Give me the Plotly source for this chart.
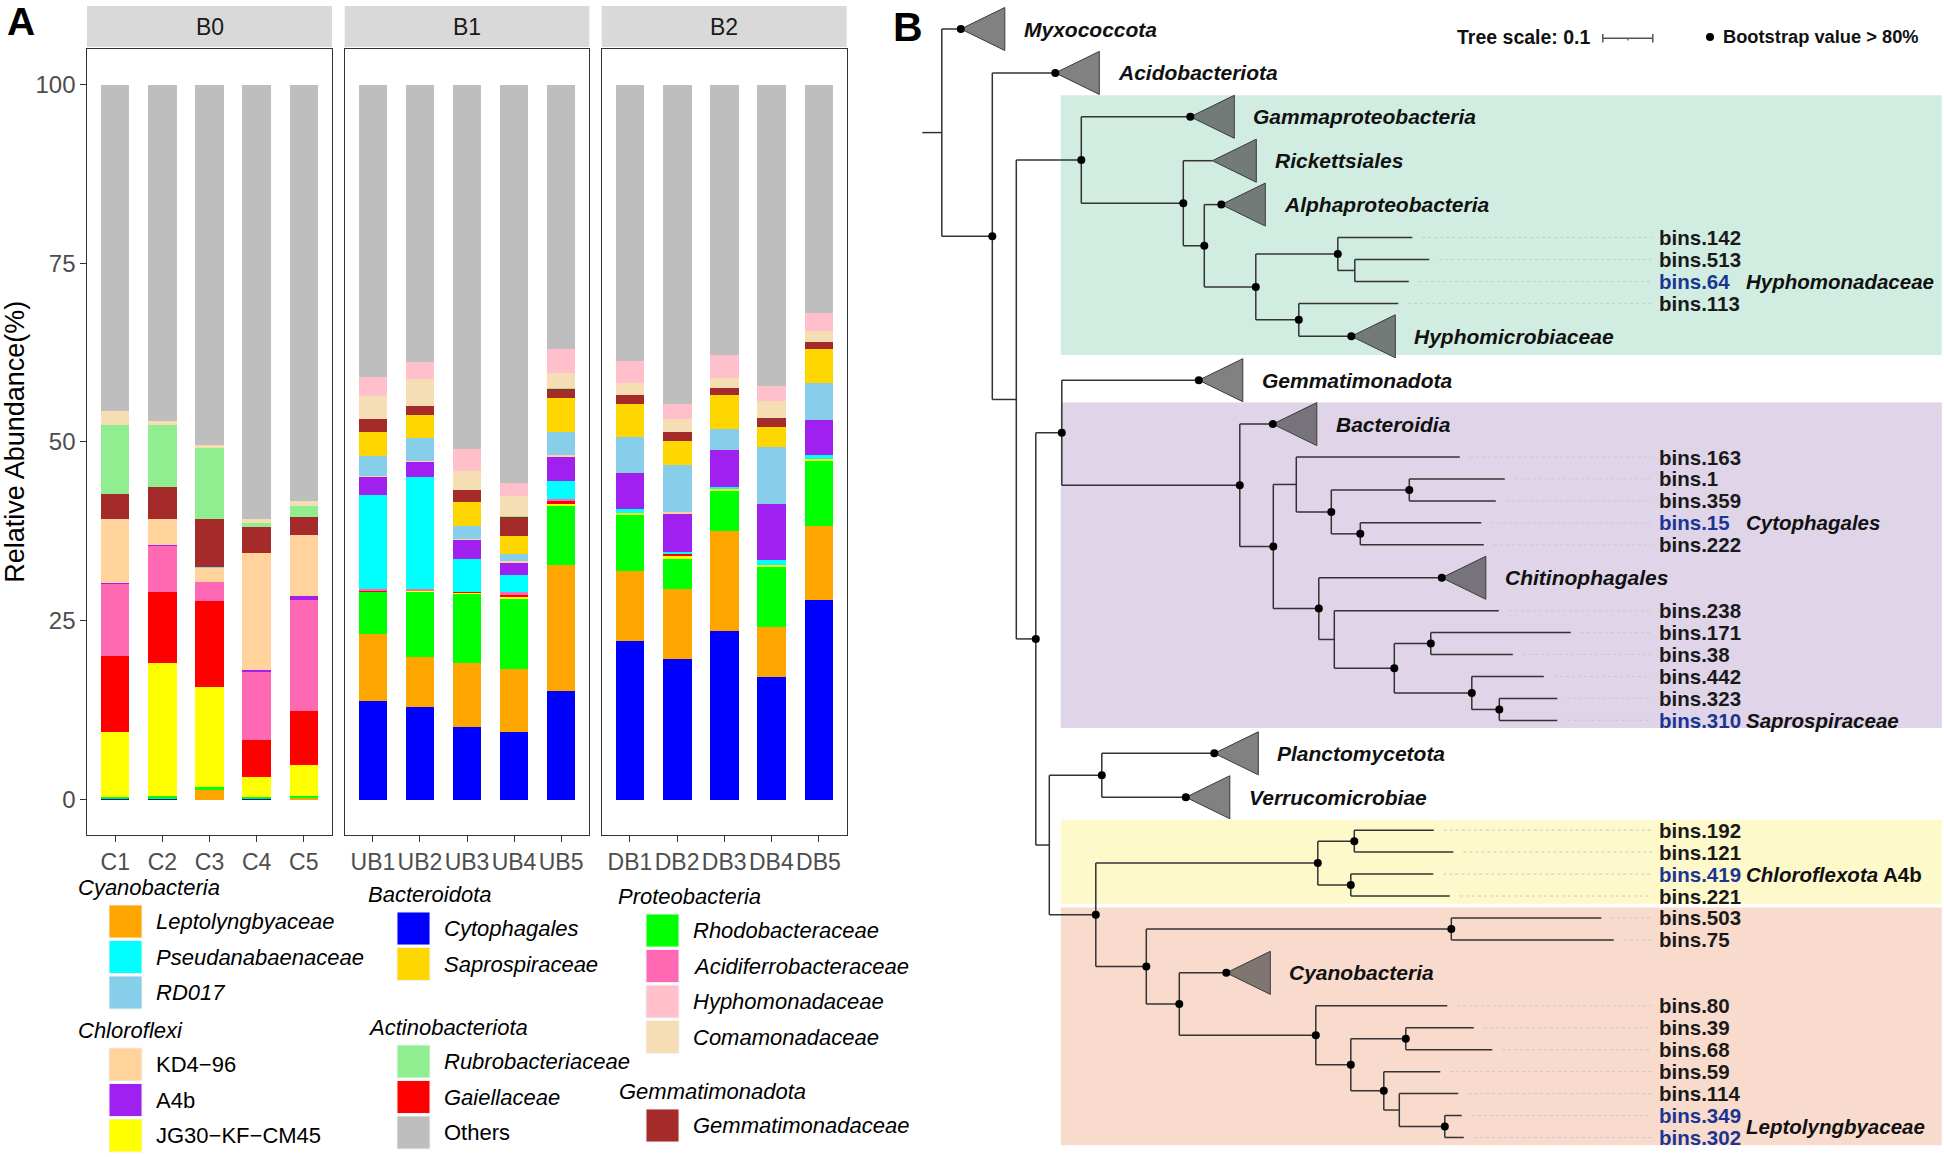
import plotly.graph_objects as go

W, H = 1944, 1157
FONT = "Liberation Sans, Arial, sans-serif"

# ======================= Panel A data =======================
FACETS = ["B0", "B1", "B2"]
SAMPLES = {
    "B0": ["C1", "C2", "C3", "C4", "C5"],
    "B1": ["UB1", "UB2", "UB3", "UB4", "UB5"],
    "B2": ["DB1", "DB2", "DB3", "DB4", "DB5"],
}
#                  C1    C2    C3    C4    C5    UB1   UB2   UB3   UB4   UB5   DB1   DB2   DB3   DB4   DB5
cytophagales    = [0.1,  0.1,  0.0,  0.1,  0.0,  13.75, 13.0, 10.12, 9.42, 15.24, 22.19, 19.67, 23.54, 17.11, 27.97]
leptolyngbyaceae = [0.0, 0.0,  1.3,  0.0,  0.3,  9.42, 6.95, 9.0,  8.9,  17.63, 9.84, 9.84, 13.99, 6.99, 10.26]
rhodobacteraceae = [0.3, 0.35, 0.47, 0.25, 0.15, 5.87, 9.19, 9.69, 9.79, 8.25, 7.83, 4.2,  5.59, 8.44, 9.18]
jg30_kf_cm45    = [9.06, 18.66, 13.99, 2.82, 4.45, 0.05, 0.05, 0.1, 0.23, 0.28, 0.23, 0.33, 0.33, 0.23, 0.23]
gaiellaceae     = [10.68, 9.93, 12.03, 5.22, 7.5,  0.2,  0.1,  0.09, 0.33, 0.47, 0.0,  0.28, 0.0,  0.0,  0.0]
acidiferrobacteraceae = [10.02, 6.53, 2.61, 9.56, 15.57, 0.13, 0.13, 0.0, 0.33, 0.23, 0.0, 0.0, 0.0, 0.0, 0.0]
pseudanabaenaceae = [0.0, 0.0, 0.0,  0.0,  0.0,  13.24, 15.71, 4.66, 2.47, 2.52, 0.61, 0.32, 0.33, 0.8, 0.61]
a4b             = [0.2,  0.05, 0.0,  0.15, 0.47, 2.47, 2.19, 2.7,  1.63, 3.31, 4.99, 5.36, 5.08, 7.78, 4.8]
kd4_96          = [8.94, 3.68, 2.0,  16.45, 8.53, 0.15, 0.05, 0.05, 0.23, 0.23, 0.0, 0.19, 0.0,  0.0,  0.0]
rd017           = [0.0,  0.0,  0.15, 0.0,  0.0,  2.83, 3.21, 1.91, 1.03, 3.26, 5.08, 6.57, 3.03, 7.97, 5.23]
saprospiraceae  = [0.0,  0.0,  0.0,  0.0,  0.0,  3.26, 3.17, 3.31, 2.56, 4.76, 4.61, 3.4,  4.75, 2.75, 4.75]
gemmatimonadaceae = [3.4, 4.43, 6.7, 3.59, 2.52, 1.87, 1.35, 1.73, 2.61, 1.26, 1.17, 1.31, 0.94, 1.31, 0.98]
rubrobacteriaceae = [9.75, 8.62, 9.93, 0.51, 1.63, 0.05, 0.0, 0.0, 0.1, 0.14, 0.0, 0.0, 0.0, 0.0, 0.0]
comamonadaceae  = [1.96, 0.63, 0.47, 0.6,  0.7,  3.21, 3.78, 2.56, 2.89, 2.09, 1.73, 1.82, 1.39, 2.42, 1.49]
hyphomonadaceae = [0.0,  0.0,  0.0,  0.0,  0.0,  2.57, 2.38, 3.17, 1.77, 3.36, 3.12, 2.11, 3.17, 2.01, 2.57]
others          = [45.59, 47.02, 50.35, 60.75, 58.18, 40.93, 38.74, 50.91, 55.71, 36.97, 38.6, 44.6, 37.86, 42.19, 31.93]

# stacking order, bottom -> top
TAXA = [
    ("Cytophagales", cytophagales),
    ("Leptolyngbyaceae", leptolyngbyaceae),
    ("Rhodobacteraceae", rhodobacteraceae),
    ("JG30−KF−CM45", jg30_kf_cm45),
    ("Gaiellaceae", gaiellaceae),
    ("Acidiferrobacteraceae", acidiferrobacteraceae),
    ("Pseudanabaenaceae", pseudanabaenaceae),
    ("A4b", a4b),
    ("KD4−96", kd4_96),
    ("RD017", rd017),
    ("Saprospiraceae", saprospiraceae),
    ("Gemmatimonadaceae", gemmatimonadaceae),
    ("Rubrobacteriaceae", rubrobacteriaceae),
    ("Comamonadaceae", comamonadaceae),
    ("Hyphomonadaceae", hyphomonadaceae),
    ("Others", others),
]
COLORS = {
    "Leptolyngbyaceae": "#FFA500", "Pseudanabaenaceae": "#00FFFF", "RD017": "#87CEEB",
    "KD4−96": "#FFD39B", "A4b": "#A020F0", "JG30−KF−CM45": "#FFFF00",
    "Cytophagales": "#0000FF", "Saprospiraceae": "#FFD700",
    "Rubrobacteriaceae": "#90EE90", "Gaiellaceae": "#FF0000", "Others": "#BEBEBE",
    "Rhodobacteraceae": "#00FF00", "Acidiferrobacteraceae": "#FF69B4",
    "Hyphomonadaceae": "#FFC0CB", "Comamonadaceae": "#F5DEB3",
    "Gemmatimonadaceae": "#A52A2A",
}
LEGEND_GROUPS = [
    ("Cyanobacteria", ["Leptolyngbyaceae", "Pseudanabaenaceae", "RD017"]),
    ("Chloroflexi", ["KD4−96", "A4b", "JG30−KF−CM45"]),
    ("Bacteroidota", ["Cytophagales", "Saprospiraceae"]),
    ("Actinobacteriota", ["Rubrobacteriaceae", "Gaiellaceae", "Others"]),
    ("Proteobacteria", ["Rhodobacteraceae", "Acidiferrobacteraceae", "Hyphomonadaceae", "Comamonadaceae"]),
    ("Gemmatimonadota", ["Gemmatimonadaceae"]),
]
UPRIGHT_LABELS = ["KD4−96", "A4b", "JG30−KF−CM45", "Others"]
Y_TICKS = [0, 25, 50, 75, 100]

# ======================= Panel B data =======================
# (name, branch length, children)
TREE = ("root", 0.0, [
    ("Myxococcota", 0.038, []),
    ("n1", 0.101, [
        ("Acidobacteriota", 0.126, []),
        ("n2", 0.048, [
            ("nProteo", 0.130, [
                ("Gammaproteobacteria", 0.218, []),
                ("nA", 0.204, [
                    ("Rickettsiales", 0.058, []),
                    ("nB", 0.042, [
                        ("Alphaproteobacteria", 0.034, []),
                        ("nC", 0.103, [
                            ("nD", 0.164, [
                                ("bins.142", 0.149, []),
                                ("nD2", 0.034, [("bins.513", 0.149, []), ("bins.64", 0.108, [])]),
                            ]),
                            ("nE", 0.086, [
                                ("bins.113", 0.199, []),
                                ("Hyphomicrobiaceae", 0.105, []),
                            ]),
                        ]),
                    ]),
                ]),
            ]),
            ("n3", 0.039, [
                ("nG", 0.052, [
                    ("Gemmatimonadota", 0.274, []),
                    ("nH", 0.356, [
                        ("Bacteroidia", 0.066, []),
                        ("nI", 0.067, [
                            ("nJ", 0.046, [
                                ("bins.163", 0.327, []),
                                ("nJ2", 0.070, [
                                    ("nJ3", 0.156, [("bins.1", 0.191, []), ("bins.359", 0.173, [])]),
                                    ("nJ4", 0.058, [("bins.15", 0.242, []), ("bins.222", 0.247, [])]),
                                ]),
                            ]),
                            ("nK", 0.091, [
                                ("Chitinophagales", 0.246, []),
                                ("nL", 0.031, [
                                    ("bins.238", 0.329, []),
                                    ("nM", 0.120, [
                                        ("nM1", 0.073, [("bins.171", 0.280, []), ("bins.38", 0.164, [])]),
                                        ("nM2", 0.155, [
                                            ("bins.442", 0.144, []),
                                            ("nM3", 0.055, [("bins.323", 0.116, []), ("bins.310", 0.116, [])]),
                                        ]),
                                    ]),
                                ]),
                            ]),
                        ]),
                    ]),
                ]),
                ("nP", 0.027, [
                    ("nQ", 0.105, [("Planctomycetota", 0.225, []), ("Verrucomicrobiae", 0.168, [])]),
                    ("nR", 0.093, [
                        ("nS", 0.444, [
                            ("nS1", 0.073, [("bins.192", 0.159, []), ("bins.121", 0.198, [])]),
                            ("nS2", 0.066, [("bins.419", 0.165, []), ("bins.221", 0.198, [])]),
                        ]),
                        ("nT", 0.101, [
                            ("nU", 0.610, [("bins.503", 0.300, []), ("bins.75", 0.325, [])]),
                            ("nV", 0.066, [
                                ("Cyanobacteria", 0.094, []),
                                ("nW", 0.273, [
                                    ("bins.80", 0.263, []),
                                    ("nX", 0.070, [
                                        ("nX1", 0.110, [("bins.39", 0.136, []), ("bins.68", 0.173, [])]),
                                        ("nX2", 0.066, [
                                            ("bins.59", 0.113, []),
                                            ("nY", 0.031, [
                                                ("bins.114", 0.118, []),
                                                ("nZ", 0.091, [("bins.349", 0.034, []), ("bins.302", 0.038, [])]),
                                            ]),
                                        ]),
                                    ]),
                                ]),
                            ]),
                        ]),
                    ]),
                ]),
            ]),
        ]),
    ]),
])
LOW_SUPPORT = ["root", "n2", "Rickettsiales", "nD2", "nJ", "nL", "nP", "nY"]  # bootstrap <= 80%
BLUE_BINS = ["bins.64", "bins.15", "bins.310", "bins.419", "bins.349", "bins.302"]
GROUP_LABELS = [
    ("<b><i>Hyphomonadaceae</i></b>", ["bins.64"]),
    ("<b><i>Cytophagales</i></b>", ["bins.15"]),
    ("<b><i>Saprospiraceae</i></b>", ["bins.310"]),
    ("<b><i>Chloroflexota</i> A4b</b>", ["bins.419"]),
    ("<b><i>Leptolyngbyaceae</i></b>", ["bins.349", "bins.302"]),
]
HIGHLIGHTS = [
    ("Gammaproteobacteria", "Hyphomicrobiaceae", "#D1EDE1"),
    ("Bacteroidia", "bins.310", "#E0D4E9"),
    ("bins.192", "bins.221", "#FDF9CB"),
    ("bins.503", "bins.302", "#F9DBCD"),
]
TREE_SCALE = 0.1

# ======================= layout helpers =======================
def PX(x):
    return x / W

def PY(y):
    return 1 - y / H

fig = go.Figure()

# ---------- Panel A bars ----------
PANEL_X = [(87, 332), (344.7, 589.3), (601.7, 846.7)]
PANEL_TOP, PANEL_BOT = 48.7, 835
for fi, facet in enumerate(FACETS):
    sfx = "" if fi == 0 else str(fi + 1)
    xs = SAMPLES[facet]
    for name, vals in TAXA:
        fig.add_trace(go.Bar(
            x=xs, y=vals[fi * 5:(fi + 1) * 5], name=name,
            marker=dict(color=COLORS[name], line=dict(width=0)),
            width=0.6, xaxis="x" + sfx, yaxis="y" + sfx, showlegend=False,
        ))
    ax = dict(
        domain=[PX(PANEL_X[fi][0]), PX(PANEL_X[fi][1])], anchor="y" + sfx,
        type="category", categoryorder="array", categoryarray=xs, range=[-0.6, 4.6],
        showline=True, mirror=True, linecolor="#333333", linewidth=1.3,
        ticks="outside", ticklen=6, tickwidth=1.3, tickcolor="#333333",
        tickfont=dict(size=23, color="#4D4D4D", family=FONT),
        showgrid=False, zeroline=False, fixedrange=True,
    )
    ay = dict(
        domain=[PY(PANEL_BOT), PY(PANEL_TOP)], anchor="x" + sfx, range=[-5, 105],
        showline=True, mirror=True, linecolor="#333333", linewidth=1.3,
        tickvals=Y_TICKS, showticklabels=(fi == 0),
        ticks="outside" if fi == 0 else "", ticklen=5.5, tickwidth=1.3, tickcolor="#333333",
        tickfont=dict(size=24, color="#4D4D4D", family=FONT),
        showgrid=False, zeroline=False, fixedrange=True,
    )
    fig.update_layout({"xaxis" + sfx: ax, "yaxis" + sfx: ay})

shapes = []
annotations = []

# strips
for fi, facet in enumerate(FACETS):
    x0, x1 = PANEL_X[fi]
    shapes.append(dict(type="rect", xref="paper", yref="paper", x0=PX(x0), x1=PX(x1),
                       y0=PY(47), y1=PY(6), fillcolor="#D9D9D9", line=dict(width=0)))
    annotations.append(dict(text=facet, xref="paper", yref="paper", x=PX((x0 + x1) / 2), y=PY(27),
                            xanchor="center", yanchor="middle",
                            showarrow=False, font=dict(size=23, color="#1A1A1A", family=FONT)))

annotations.append(dict(text="Relative Abundance(%)", xref="paper", yref="paper", x=PX(15),
                        y=PY((PANEL_TOP + PANEL_BOT) / 2), textangle=-90, showarrow=False,
                        xanchor="center", yanchor="middle",
                        font=dict(size=27, color="black", family=FONT)))
annotations.append(dict(text="<b>A</b>", xref="paper", yref="paper", x=PX(21), y=PY(21),
                        xanchor="center", yanchor="middle",
                        showarrow=False, font=dict(size=39, color="black", family=FONT)))
annotations.append(dict(text="<b>B</b>", xref="paper", yref="paper", x=PX(908), y=PY(27),
                        xanchor="center", yanchor="middle",
                        showarrow=False, font=dict(size=41, color="black", family=FONT)))

# legend of panel A
LEG_POS = {  # title x, title y, key left x (pixels)
    "Cyanobacteria": (76, 887, 109), "Chloroflexi": (76, 1030, 109),
    "Bacteroidota": (366, 894, 397), "Actinobacteriota": (366, 1027, 397),
    "Proteobacteria": (616, 896, 646), "Gemmatimonadota": (617, 1091, 646),
}
KEY, PITCH = 33, 35.5
for title, items in LEGEND_GROUPS:
    tx, ty, kx = LEG_POS[title]
    annotations.append(dict(text=f"<i>{title}</i>", xref="paper", yref="paper", x=PX(tx), y=PY(ty),
                            xanchor="left", yanchor="middle", showarrow=False,
                            font=dict(size=22, color="black", family=FONT)))
    for k, item in enumerate(items):
        cy = ty + 34.5 + k * PITCH
        shapes.append(dict(type="rect", xref="paper", yref="paper", x0=PX(kx), x1=PX(kx + KEY),
                           y0=PY(cy + KEY / 2), y1=PY(cy - KEY / 2), fillcolor=COLORS[item],
                           line=dict(width=1, color="#F2F2F2")))
        lab = item if item in UPRIGHT_LABELS else f"<i>{item}</i>"
        annotations.append(dict(text=lab, xref="paper", yref="paper", x=PX(kx + 45), y=PY(cy),
                                xanchor="left", yanchor="middle", showarrow=False,
                                font=dict(size=22, color="black", family=FONT)))

# ---------- Panel B tree ----------
X0_PX, PPU = 941.8, 500.0       # root position, pixels per substitution unit
Y0_PX, SLOT = 7.05, 21.95        # top of first slot, pixels per slot
TRI_W, TRI_H = 0.088, 1.96
LABEL_X = 1.430
GROUP_X = 1.604
STUB = 0.039

nodes = {}
counter = [0.0]


def layout(node, parent_x):
    name, length, children = node
    x = parent_x + length
    if not children:
        w = 1.0 if name.startswith("bins.") else 2.0
        y = counter[0] + w / 2
        counter[0] += w
    else:
        ys = [layout(c, x) for c in children]
        y = (ys[0] + ys[-1]) / 2
    nodes[name] = dict(x=x, y=y, px=parent_x, children=[c[0] for c in children])
    return y


layout(TREE, 0.0)

line_x, line_y = [], []
lead_x, lead_y = [], []
tri_x, tri_y = [], []
dot_x, dot_y = [], []
root = nodes["root"]
line_x += [-STUB, 0, None]
line_y += [root["y"], root["y"], None]
for name, n in nodes.items():
    if n["children"]:
        ys = [nodes[c]["y"] for c in n["children"]]
        line_x += [n["x"], n["x"], None]
        line_y += [min(ys), max(ys), None]
        for c in n["children"]:
            cn = nodes[c]
            line_x += [n["x"], cn["x"], None]
            line_y += [cn["y"], cn["y"], None]
        if name not in LOW_SUPPORT:
            dot_x.append(n["x"]); dot_y.append(n["y"])
    elif name.startswith("bins."):
        lead_x += [n["x"] + 0.02, LABEL_X - 0.01, None]
        lead_y += [n["y"], n["y"], None]
        col = "#1B3593" if name in BLUE_BINS else "#1A1A1A"
        annotations.append(dict(text=f"<b>{name}</b>", xref="x4", yref="y4", x=LABEL_X, y=n["y"],
                                xanchor="left", yanchor="middle", showarrow=False,
                                font=dict(size=20.5, color=col, family=FONT)))
    else:
        tri_x += [n["x"], n["x"] + TRI_W, n["x"] + TRI_W, n["x"], None]
        tri_y += [n["y"], n["y"] - TRI_H / 2, n["y"] + TRI_H / 2, n["y"], None]
        if name not in LOW_SUPPORT:
            dot_x.append(n["x"]); dot_y.append(n["y"])
        annotations.append(dict(text=f"<b><i>{name}</i></b>", xref="x4", yref="y4",
                                x=n["x"] + TRI_W + 0.034, y=n["y"], xanchor="left", yanchor="middle",
                                showarrow=False, font=dict(size=21, color="#111111", family=FONT)))

for text, members in GROUP_LABELS:
    gy = sum(nodes[m]["y"] for m in members) / len(members)
    annotations.append(dict(text=text, xref="x4", yref="y4", x=GROUP_X, y=gy, xanchor="left",
                            yanchor="middle", showarrow=False,
                            font=dict(size=20.5, color="#111111", family=FONT)))


def slot_top(name):
    n = nodes[name]
    w = 1.0 if name.startswith("bins.") else 2.0
    return n["y"] - w / 2


def slot_bot(name):
    n = nodes[name]
    w = 1.0 if name.startswith("bins.") else 2.0
    return n["y"] + w / 2


for first, last, col in HIGHLIGHTS:
    shapes.append(dict(type="rect", xref="x4", yref="y4", x0=0.238, x1=2.0,
                       y0=slot_top(first) + 0.02, y1=slot_bot(last) - 0.15,
                       fillcolor=col, line=dict(width=0), layer="below"))

fig.add_trace(go.Scatter(x=lead_x, y=lead_y, mode="lines", xaxis="x4", yaxis="y4",
                         line=dict(color="#C9C9C9", width=1, dash="dot"), hoverinfo="skip",
                         showlegend=False))
fig.add_trace(go.Scatter(x=line_x, y=line_y, mode="lines", xaxis="x4", yaxis="y4",
                         line=dict(color="#333333", width=1.5), hoverinfo="skip", showlegend=False))
fig.add_trace(go.Scatter(x=tri_x, y=tri_y, mode="lines", fill="toself", xaxis="x4", yaxis="y4",
                         fillcolor="rgba(70,70,70,0.68)", line=dict(color="#3A3A3A", width=1),
                         hoverinfo="skip", showlegend=False))
fig.add_trace(go.Scatter(x=dot_x, y=dot_y, mode="markers", xaxis="x4", yaxis="y4",
                         marker=dict(color="black", size=8), hoverinfo="skip", showlegend=False))

# tree legend
SB_X = 1.322
sb_y = PY(38.3)
shapes.append(dict(type="line", xref="x4", yref="paper", x0=SB_X, x1=SB_X + TREE_SCALE,
                   y0=sb_y, y1=sb_y, line=dict(color="#555555", width=1.5)))
for xx in (SB_X, SB_X + TREE_SCALE):
    shapes.append(dict(type="line", xref="x4", yref="paper", x0=xx, x1=xx,
                       y0=PY(34), y1=PY(42.5), line=dict(color="#555555", width=1.5)))
shapes.append(dict(type="line", xref="x4", yref="paper", x0=SB_X + TREE_SCALE / 2,
                   x1=SB_X + TREE_SCALE / 2, y0=sb_y, y1=PY(40.5), line=dict(color="#555555", width=1.2)))
annotations.append(dict(text="<b>Tree scale: 0.1</b>", xref="paper", yref="paper", x=PX(1593), y=PY(37),
                        xanchor="right", yanchor="middle", showarrow=False,
                        font=dict(size=19.5, color="#111111", family=FONT)))
shapes.append(dict(type="circle", xref="paper", yref="paper", x0=PX(1706), x1=PX(1714),
                   y0=PY(41), y1=PY(33), fillcolor="black", line=dict(width=0)))
annotations.append(dict(text="<b>Bootstrap value > 80%</b>", xref="paper", yref="paper", x=PX(1721),
                        y=PY(37), xanchor="left", yanchor="middle", showarrow=False,
                        font=dict(size=18.3, color="#111111", family=FONT)))

TREE_LEFT = 880
fig.update_layout(
    xaxis4=dict(domain=[PX(TREE_LEFT), 1], range=[(TREE_LEFT - X0_PX) / PPU, (W - X0_PX) / PPU],
                anchor="y4", visible=False, fixedrange=True),
    yaxis4=dict(domain=[0, 1], range=[(H - Y0_PX) / SLOT, -Y0_PX / SLOT], anchor="x4",
                visible=False, fixedrange=True),
)

fig.update_layout(
    width=W, height=H, margin=dict(l=0, r=0, t=0, b=0),
    paper_bgcolor="white", plot_bgcolor="rgba(0,0,0,0)",
    barmode="stack", bargap=0, showlegend=False,
    font=dict(family=FONT),
    shapes=shapes, annotations=annotations,
)

fig.write_html(
    "out.html",
    config={"displayModeBar": False},
    post_script="document.body.style.margin='0px';document.body.style.overflow='hidden';",
)
